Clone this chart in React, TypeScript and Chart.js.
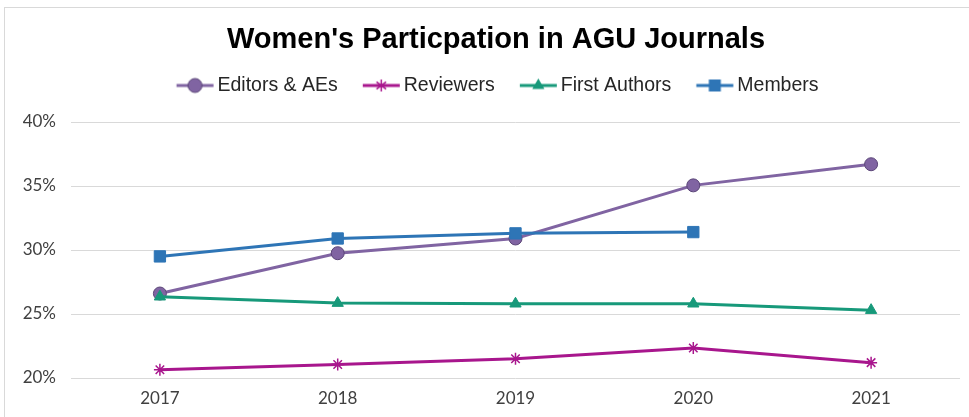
import React, { useEffect, useRef } from 'react';
import { Chart, registerables } from 'chart.js';

Chart.register(...registerables);

const categories = ['2017', '2018', '2019', '2020', '2021'];
const editorsAEs = [26.6, 29.75, 30.9, 35.05, 36.7];
const reviewers = [20.65, 21.05, 21.5, 22.35, 21.2];
const firstAuthors = [26.35, 25.85, 25.8, 25.8, 25.3];
const members = [29.5, 30.9, 31.3, 31.4, null];
const seriesNames = ['Editors & AEs', 'Reviewers', 'First Authors', 'Members'];
const yMin = 20;
const yMax = 40;
const yStep = 5;
const titleText = "Women's Particpation in AGU Journals";

const PURPLE = '#8064A2';
const PURPLE_DARK = '#5B4678';
const MAGENTA = '#A8168D';
const GREEN = '#17997A';
const BLUE = '#2E75B6';

const TITLE_FONT = "'Liberation Sans', Arial, sans-serif";
const LEGEND_FONT = "'Liberation Sans', Arial, sans-serif";
const TICK_FONT = "Lato, 'Open Sans', sans-serif";

function makeIcon(color: string, kind: string): HTMLCanvasElement {
  const c = document.createElement('canvas');
  c.width = 64;
  c.height = 20;
  const ctx = c.getContext('2d')!;
  const x0 = 17.9;
  const x1 = 54.9;
  const cy = 10;
  const mx = (x0 + x1) / 2;
  ctx.strokeStyle = color;
  ctx.lineWidth = 3;
  ctx.beginPath();
  ctx.moveTo(x0, cy);
  ctx.lineTo(x1, cy);
  ctx.stroke();
  if (kind === 'circle') {
    ctx.beginPath();
    ctx.arc(mx, cy, 7, 0, Math.PI * 2);
    ctx.fillStyle = color;
    ctx.fill();
    ctx.lineWidth = 1;
    ctx.strokeStyle = PURPLE_DARK;
    ctx.stroke();
  } else if (kind === 'star') {
    ctx.lineWidth = 1.5;
    const r = 6;
    ctx.beginPath();
    ctx.moveTo(mx, cy - r);
    ctx.lineTo(mx, cy + r);
    ctx.moveTo(mx - r * 0.8, cy - r * 0.6);
    ctx.lineTo(mx + r * 0.8, cy + r * 0.6);
    ctx.moveTo(mx - r * 0.8, cy + r * 0.6);
    ctx.lineTo(mx + r * 0.8, cy - r * 0.6);
    ctx.stroke();
  } else if (kind === 'triangle') {
    const r = 7;
    ctx.beginPath();
    ctx.moveTo(mx, cy - r);
    ctx.lineTo(mx + r * 0.866, cy + r * 0.5);
    ctx.lineTo(mx - r * 0.866, cy + r * 0.5);
    ctx.closePath();
    ctx.fillStyle = color;
    ctx.fill();
  } else {
    ctx.fillStyle = color;
    ctx.fillRect(mx - 6, cy - 6, 12, 12);
  }
  return c;
}

const borderPlugin = {
  id: 'outerBorder',
  beforeDraw(chart: any) {
    const ctx = chart.ctx;
    ctx.save();
    ctx.fillStyle = '#ffffff';
    ctx.fillRect(0, 0, chart.width, chart.height);
    ctx.strokeStyle = '#d9d9d9';
    ctx.lineWidth = 1;
    ctx.strokeRect(4.5, 7.5, chart.width + 20, chart.height + 20);
    ctx.restore();
  },
};

export default function App() {
  const ref = useRef<HTMLCanvasElement | null>(null);

  useEffect(() => {
    document.body.style.margin = '0';
    const canvas = ref.current!;
    const kinds = ['circle', 'star', 'triangle', 'rect'];
    const colors = [PURPLE, MAGENTA, GREEN, BLUE];
    const icons = kinds.map((k, i) => makeIcon(colors[i], k));

    const chart = new Chart(canvas, {
      type: 'line',
      data: {
        labels: categories,
        datasets: [
          {
            label: seriesNames[0],
            data: editorsAEs,
            borderColor: PURPLE,
            backgroundColor: PURPLE,
            pointBorderColor: PURPLE_DARK,
            pointBorderWidth: 1,
            pointStyle: 'circle',
            pointRadius: 6.5,
            borderWidth: 3,
            order: 3,
          },
          {
            label: seriesNames[1],
            data: reviewers,
            borderColor: MAGENTA,
            backgroundColor: MAGENTA,
            pointBorderColor: MAGENTA,
            pointBorderWidth: 1.5,
            pointStyle: 'star',
            pointRadius: 6,
            borderWidth: 3,
            order: 2,
          },
          {
            label: seriesNames[2],
            data: firstAuthors,
            borderColor: GREEN,
            backgroundColor: GREEN,
            pointBorderColor: GREEN,
            pointBorderWidth: 1,
            pointStyle: 'triangle',
            pointRadius: 6.5,
            borderWidth: 3,
            order: 1,
          },
          {
            label: seriesNames[3],
            data: members,
            borderColor: BLUE,
            backgroundColor: BLUE,
            pointBorderColor: BLUE,
            pointBorderWidth: 1,
            pointStyle: 'rect',
            pointRadius: 8,
            borderWidth: 3,
            order: 0,
          },
        ],
      },
      options: {
        responsive: false,
        animation: false,
        layout: { padding: { top: 0, right: 0, bottom: 9, left: 23 } },
        plugins: {
          tooltip: { enabled: false },
          title: {
            display: true,
            text: titleText,
            color: '#000000',
            font: { family: TITLE_FONT, weight: 'bold', size: 29, lineHeight: 1 },
            padding: { top: 25.5, bottom: -0.75 },
          },
          subtitle: {
            display: true,
            text: ' ',
            position: 'top',
            weight: 500,
            font: { size: 16.75, lineHeight: 1 },
            padding: 0,
          },
          legend: {
            display: true,
            position: 'top',
            labels: {
              usePointStyle: true,
              pointStyleWidth: 34.25,
              padding: 22,
              color: '#262626',
              font: { family: LEGEND_FONT, size: 19.5 },
              generateLabels: (ch: any) =>
                ch.data.datasets.map((ds: any, i: number) => ({
                  text: ds.label,
                  pointStyle: icons[i],
                  fillStyle: colors[i],
                  strokeStyle: colors[i],
                  lineWidth: 0,
                  hidden: false,
                  datasetIndex: i,
                  fontColor: '#262626',
                })),
            },
          },
        },
        scales: {
          x: {
            offset: true,
            grid: { display: false, drawTicks: false },
            border: { display: false },
            afterFit: (scale: any) => {
              scale.height = 30;
            },
            ticks: {
              padding: 10,
              color: '#404040',
              font: { family: TICK_FONT, size: 17 },
            },
          },
          y: {
            min: yMin,
            max: yMax,
            grid: { color: '#d9d9d9', lineWidth: 1, drawTicks: false },
            border: { display: false },
            afterFit: (scale: any) => {
              scale.width = 48;
            },
            ticks: {
              stepSize: yStep,
              padding: 15,
              color: '#404040',
              font: { family: TICK_FONT, size: 17 },
              callback: (v: any) => v + '%',
            },
          },
          y2: {
            type: 'linear',
            position: 'right',
            display: true,
            grid: { display: false, drawTicks: false },
            border: { display: false },
            ticks: { display: false },
            afterFit: (scale: any) => {
              scale.width = 7;
            },
          },
        },
      },
      plugins: [borderPlugin],
    } as any);

    return () => chart.destroy();
  }, []);

  return (
    <div style={{ width: 969, height: 417 }}>
      <canvas ref={ref} width={969} height={417} style={{ display: 'block' }} />
    </div>
  );
}
